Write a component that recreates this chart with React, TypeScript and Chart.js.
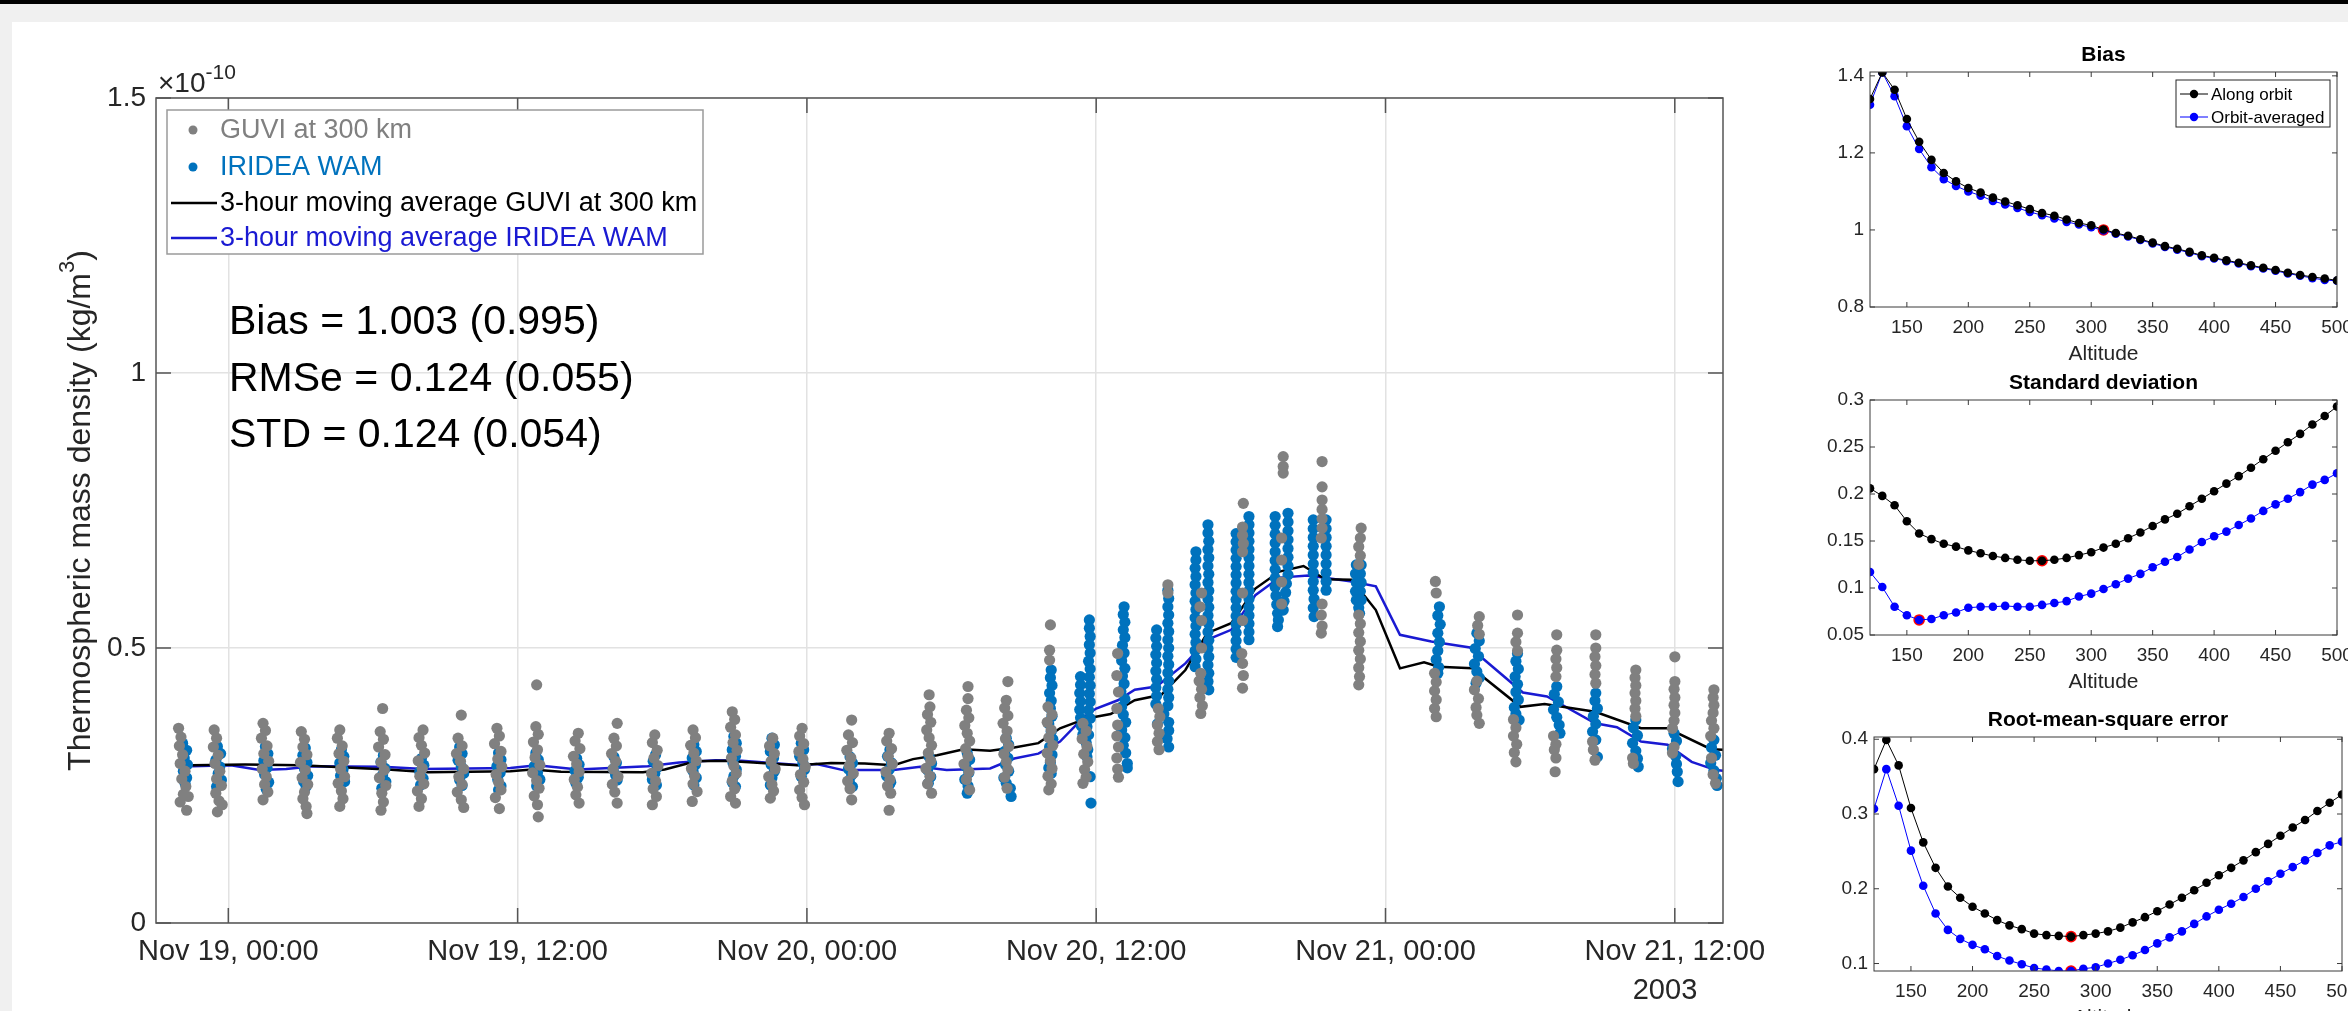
import React, { useEffect, useRef } from 'react';
import { Chart, registerables } from 'chart.js';

Chart.register(...registerables);

const FONT = "Arial, 'Liberation Sans', Helvetica, sans-serif";
const PAGE_W = 2348;
const PAGE_H = 1011;
const TEXT = '#262626';
const GUVI_COLOR = '#808080';
const WAM_COLOR = '#0072BD';
const AVG_GUVI_COLOR = '#000000';
const AVG_WAM_COLOR = '#1a1ad2';

// ---------------- main panel data (hours from Nov 19 00:00, density x1e-10) ----------------
const xTickHours = [0, 12, 24, 36, 48, 60];
const xTickLabels = ['Nov 19, 00:00', 'Nov 19, 12:00', 'Nov 20, 00:00', 'Nov 20, 12:00', 'Nov 21, 00:00', 'Nov 21, 12:00'];
const yTicksMain = [0, 0.5, 1, 1.5];
const legendLabels = ['GUVI at 300 km', 'IRIDEA WAM', '3-hour moving average GUVI at 300 km', '3-hour moving average IRIDEA WAM'];
const statLines = ['Bias = 1.003 (0.995)', 'RMSe = 0.124 (0.055)', 'STD = 0.124 (0.054)'];

// centre time (hours) of each orbit pass
const clusterHours = [-1.83, -0.42, 1.54, 3.16, 4.69, 6.40, 8.01, 9.63, 11.21, 12.79, 14.45, 16.03, 17.69, 19.31, 20.97, 22.55, 23.80, 25.79, 27.41, 29.07, 30.65, 32.27, 34.10, 35.55, 37.09, 38.74, 40.37, 42.07, 43.69, 45.27, 46.89, 50.17, 51.79, 53.41, 55.07, 56.69, 58.35, 59.97, 61.59];

// per pass: [offset minutes, value, offset minutes, value, ...]
const guviClusters = [
  [-14,0.354, -8,0.338, -12,0.322, -4,0.306, -10,0.29, 2,0.276, -6,0.262, 4,0.248, -2,0.234, -10,0.22, 6,0.205, 10,0.23],
  [-10,0.351, -4,0.336, -12,0.32, 0,0.305, -8,0.29, 4,0.276, -4,0.262, 8,0.25, -6,0.236, 2,0.222, -2,0.202, 10,0.215],
  [-6,0.363, 0,0.35, -10,0.336, 4,0.322, -4,0.308, 8,0.294, -8,0.28, 2,0.266, -2,0.252, 6,0.238, -6,0.224],
  [-8,0.348, 0,0.334, -4,0.32, 6,0.306, -10,0.292, 2,0.278, -6,0.264, 8,0.252, 0,0.238, -4,0.226, 4,0.212, 6,0.199],
  [-4,0.351, -10,0.336, 2,0.322, -6,0.308, 6,0.294, -2,0.28, 8,0.266, -8,0.254, 0,0.24, 4,0.226, -4,0.212],
  [0,0.39, -6,0.348, 2,0.334, -10,0.32, 6,0.306, -4,0.292, 4,0.278, -8,0.264, 8,0.25, -2,0.236, 2,0.22, -4,0.205],
  [4,0.351, -6,0.337, 0,0.323, 8,0.309, -8,0.295, 2,0.281, -4,0.267, 6,0.253, -10,0.24, 0,0.226, -6,0.212],
  [2,0.378, -6,0.336, 4,0.322, -10,0.308, 0,0.294, 8,0.28, -4,0.266, 4,0.252, -8,0.238, 2,0.224, 8,0.21],
  [-4,0.354, 2,0.34, -10,0.326, 6,0.312, -2,0.298, 8,0.284, -6,0.27, 0,0.256, 6,0.242, -8,0.228, 2,0.208],
  [0,0.433, -2,0.357, 4,0.343, -8,0.329, 2,0.315, -4,0.301, 8,0.287, -10,0.273, 0,0.259, 6,0.245, -6,0.231, 2,0.215, 4,0.193],
  [4,0.345, -4,0.331, 8,0.317, -8,0.303, 0,0.289, 6,0.275, -6,0.261, 2,0.247, -2,0.233, 6,0.218],
  [6,0.363, -2,0.336, 4,0.322, -8,0.308, 2,0.294, -4,0.28, 8,0.266, -6,0.252, 0,0.238, 6,0.218],
  [0,0.342, -6,0.328, 6,0.314, -2,0.3, 8,0.286, -8,0.272, 2,0.258, -4,0.244, 4,0.23, -6,0.215],
  [-2,0.351, 4,0.337, -8,0.323, 0,0.309, 6,0.295, -6,0.281, 2,0.267, -2,0.253, 8,0.239, -4,0.221],
  [-4,0.384, 2,0.37, -8,0.356, 4,0.342, -2,0.328, 8,0.314, -6,0.3, 0,0.286, 6,0.272, -4,0.258, 2,0.244, -8,0.23, 4,0.218],
  [2,0.336, -6,0.322, 6,0.308, -2,0.294, 8,0.28, -8,0.266, 0,0.252, 4,0.24, -4,0.227],
  [0,0.354, -6,0.34, 4,0.326, -8,0.312, 2,0.298, 8,0.284, -4,0.27, 4,0.256, -6,0.242, 0,0.228, 6,0.215],
  [4,0.369, -4,0.342, 6,0.328, -8,0.314, 2,0.3, -2,0.286, 8,0.272, -6,0.258, 0,0.244, 4,0.224],
  [0,0.345, -6,0.331, 6,0.317, -2,0.303, 8,0.289, -8,0.275, 2,0.261, -4,0.249, 4,0.236, 0,0.205],
  [0,0.415, 2,0.393, -4,0.379, 4,0.365, -6,0.351, 0,0.337, 6,0.323, -2,0.309, 4,0.295, -8,0.281, 2,0.267, -4,0.253, 6,0.236],
  [2,0.43, 2,0.408, -2,0.387, 4,0.373, -6,0.359, 0,0.345, 6,0.331, -4,0.317, 2,0.303, -8,0.289, 4,0.275, -2,0.261, 6,0.242],
  [4,0.439, 0,0.405, -4,0.391, 4,0.377, -8,0.363, 2,0.349, -2,0.335, 6,0.321, -6,0.307, 0,0.293, 4,0.279, -4,0.265, 2,0.245],
  [0,0.542, -2,0.496, -2,0.478, -6,0.393, 4,0.379, -8,0.365, 2,0.351, -4,0.337, 6,0.323, -8,0.309, 0,0.295, 4,0.281, -6,0.267, 2,0.253, -4,0.242],
  [-6,0.363, 2,0.349, -8,0.335, 4,0.321, -4,0.307, 6,0.293, -2,0.279, 2,0.265, -6,0.254],
  [-12,0.49, -14,0.45, -10,0.42, -14,0.39, -12,0.36, -14,0.34, -10,0.32, -14,0.3, -12,0.28, -10,0.265],
  [14,0.615, 14,0.6, -10,0.39, -6,0.375, -12,0.36, -8,0.345, -12,0.33, -8,0.315],
  [-4,0.575, 0,0.6, 0,0.55, 0,0.5, -2,0.454, -6,0.44, 0,0.425, -4,0.41, 2,0.395, -2,0.381],
  [2,0.763, 0,0.72, 0,0.705, 2,0.69, 0,0.675, 0,0.6, 0,0.55, -2,0.49, 0,0.472, 2,0.45, 0,0.427],
  [4,0.848, 4,0.83, 4,0.818, 0,0.7, 0,0.66, 0,0.62, 0,0.58],
  [6,0.839, 6,0.793, 6,0.769, 6,0.752, 6,0.735, 6,0.718, 4,0.7, 6,0.58, 4,0.56, 6,0.54, 4,0.527],
  [6,0.718, 4,0.7, 0,0.684, 4,0.668, 0,0.652, 0,0.56, 4,0.544, 0,0.528, 4,0.512, 0,0.496, 4,0.48, 0,0.464, 2,0.448, 0,0.433],
  [-6,0.621, -4,0.6, -8,0.454, -4,0.438, -8,0.422, -4,0.406, -8,0.39, -4,0.375],
  [6,0.557, 2,0.541, 6,0.525, 0,0.44, -6,0.424, 4,0.408, -2,0.392, 0,0.378, 6,0.363],
  [4,0.56, 4,0.527, 0,0.511, 4,0.495, -6,0.37, 0,0.355, -6,0.34, 2,0.325, -4,0.31, 0,0.293],
  [2,0.524, 2,0.496, 0,0.48, 2,0.464, 0,0.448, -6,0.34, 0,0.325, -4,0.315, 0,0.3, -2,0.275],
  [2,0.524, 2,0.5, 0,0.484, 2,0.468, 0,0.452, 2,0.436, -6,0.33, -4,0.315, 0,0.296],
  [2,0.46, 0,0.446, 2,0.432, 0,0.418, 2,0.404, 0,0.39, 2,0.376, -6,0.3, -4,0.29],
  [2,0.484, 2,0.439, 0,0.425, 2,0.41, 0,0.396, 2,0.382, 0,0.368, -4,0.354, 0,0.32, -4,0.309],
  [2,0.424, 0,0.41, 2,0.396, 0,0.382, -4,0.368, 2,0.354, -6,0.34, -4,0.3, 0,0.27, 6,0.254],
];

const wamClusters = [
  [-4,0.327, 6,0.314, 0,0.3, 8,0.288, -2,0.276, 6,0.264, 2,0.254],
  [-2,0.321, 6,0.308, -6,0.296, 4,0.284, 0,0.272, 8,0.26, -4,0.248],
  [0,0.321, 6,0.308, -4,0.295, 4,0.282, -2,0.27, 8,0.256, 2,0.243],
  [2,0.318, -4,0.305, 6,0.292, 0,0.28, 8,0.268, -2,0.257, 4,0.248],
  [0,0.315, 6,0.303, -4,0.291, 4,0.279, -2,0.268, 8,0.257],
  [2,0.305, -4,0.293, 6,0.281, 0,0.269, 8,0.257, -2,0.245],
  [0,0.299, 6,0.287, -4,0.275, 4,0.263, -2,0.251],
  [-2,0.32, 4,0.308, -6,0.296, 2,0.284, 8,0.272, -2,0.26, 4,0.25],
  [0,0.309, 6,0.297, -4,0.285, 4,0.273, -2,0.261, 6,0.249, 0,0.242],
  [-2,0.309, 4,0.297, -6,0.285, 2,0.273, 8,0.261, 0,0.249],
  [0,0.299, 6,0.288, -4,0.277, 4,0.265, -2,0.254],
  [-2,0.302, 4,0.291, -4,0.28, 2,0.269, 6,0.26],
  [2,0.306, -4,0.294, 6,0.283, 0,0.272, -6,0.261, 4,0.251],
  [0,0.324, 6,0.312, -4,0.3, 4,0.288, -2,0.276, 6,0.264, 0,0.251],
  [0,0.339, 6,0.327, -4,0.315, 4,0.303, -2,0.291, 6,0.279, 0,0.267, -4,0.256, 4,0.248],
  [0,0.336, 6,0.324, -4,0.312, 4,0.3, -2,0.288, 6,0.276, 0,0.264, -4,0.251],
  [-2,0.327, 4,0.315, -6,0.303, 2,0.291, 6,0.279, -2,0.266],
  [0,0.302, 6,0.291, -4,0.28, 4,0.269, -2,0.258, 6,0.248],
  [2,0.315, -4,0.303, 6,0.291, 0,0.279, -6,0.267, 4,0.256, 0,0.251],
  [0,0.302, 6,0.29, -4,0.278, 4,0.266, -2,0.254],
  [0,0.309, 6,0.297, -4,0.285, 4,0.273, -6,0.261, 2,0.249, 0,0.236],
  [0,0.336, 6,0.324, -4,0.312, 4,0.3, -2,0.288, 6,0.276, -6,0.264, 0,0.254, 10,0.245, 12,0.23],
  [2,0.46, 0,0.446, 4,0.432, -2,0.418, 2,0.404, 0,0.39, 4,0.376, -4,0.362, 2,0.348, 6,0.334, -2,0.32, 4,0.306, 0,0.292, -4,0.282, 2,0.272],
  [10,0.551, 10,0.536, 12,0.521, 10,0.506, 12,0.491, 8,0.476, 12,0.462, -12,0.448, 10,0.447, -12,0.433, 12,0.432, -14,0.418, 10,0.417, -12,0.403, 12,0.402, -14,0.388, 8,0.387, -12,0.373, 12,0.372, -10,0.358, 4,0.357, -6,0.343, 8,0.342, 2,0.328, 6,0.315, 4,0.302, 12,0.266, 14,0.218],
  [4,0.575, 2,0.561, 6,0.547, 2,0.533, 6,0.519, 0,0.505, 4,0.491, -2,0.477, 6,0.463, 0,0.449, 4,0.435, -4,0.421, 6,0.407, -2,0.393, 2,0.379, 8,0.365, -2,0.351, 6,0.337, 2,0.323, 8,0.309, 12,0.29, 12,0.282],
  [14,0.605, 16,0.59, 14,0.575, 16,0.56, 14,0.545, -14,0.533, 16,0.53, -16,0.518, 14,0.515, -14,0.503, 16,0.5, -16,0.488, 14,0.485, -14,0.473, 16,0.47, -16,0.458, 14,0.455, -14,0.443, 16,0.44, -16,0.428, 14,0.425, -14,0.413, 16,0.41, -16,0.398, 14,0.395, 4,0.38, 16,0.365, -12,0.362, 16,0.35, 12,0.335, 16,0.32],
  [16,0.724, 16,0.709, 18,0.694, -14,0.675, 16,0.679, -14,0.66, 18,0.664, -16,0.645, 16,0.649, -14,0.63, 18,0.634, -16,0.615, 16,0.619, -14,0.6, 18,0.604, -16,0.585, 16,0.589, -14,0.57, 18,0.574, -16,0.555, 16,0.559, -14,0.54, 18,0.544, -16,0.525, 16,0.529, -14,0.51, 18,0.514, -16,0.495, 16,0.499, -14,0.48, 18,0.484, -16,0.466, 16,0.469, 18,0.454, 16,0.439, 18,0.424],
  [16,0.739, 16,0.724, -16,0.708, 16,0.709, -16,0.693, 16,0.694, -16,0.678, 16,0.679, -16,0.663, 16,0.664, -16,0.648, 16,0.649, -16,0.633, 16,0.634, -16,0.618, 16,0.619, -16,0.603, 16,0.604, -16,0.588, 16,0.589, -16,0.573, 16,0.574, -16,0.558, 16,0.559, -16,0.543, 16,0.544, -16,0.528, 16,0.529, -16,0.513, 16,0.515, -16,0.498, -16,0.483],
  [-16,0.739, 16,0.745, -16,0.723, 16,0.729, -16,0.707, 16,0.713, -16,0.691, 16,0.697, -16,0.675, 16,0.681, -16,0.659, 16,0.665, -16,0.643, 16,0.649, -16,0.627, 16,0.633, -16,0.611, 12,0.617, -14,0.595, 10,0.601, -12,0.579, 6,0.585, -10,0.563, 4,0.569, -8,0.551, -10,0.539],
  [-16,0.733, 16,0.733, -16,0.717, 16,0.717, -16,0.701, 16,0.701, -16,0.685, 16,0.685, -16,0.669, 16,0.669, -16,0.653, 16,0.653, -16,0.637, 16,0.637, -16,0.621, 16,0.621, -16,0.605, 16,0.605, -14,0.589, -16,0.573, -14,0.557],
  [-6,0.651, 6,0.651, -8,0.635, 4,0.635, -6,0.619, 6,0.619, -8,0.603, 4,0.603, -6,0.587, 6,0.587, 0,0.573, 2,0.563],
  [4,0.575, 0,0.559, 6,0.543, 0,0.527, 4,0.511, 0,0.495, -4,0.479, 2,0.465, 0,0.454],
  [0,0.527, 6,0.513, -4,0.499, 4,0.485, -6,0.471, 0,0.457, 6,0.446, -2,0.436],
  [4,0.49, 0,0.476, 6,0.462, -2,0.448, 4,0.434, 0,0.42, 6,0.406, -4,0.392, 0,0.38, 8,0.369],
  [2,0.43, -4,0.416, 6,0.402, -6,0.388, 2,0.374, 8,0.36, 10,0.345],
  [2,0.418, 0,0.404, 6,0.39, -4,0.376, 2,0.362, -6,0.348, 2,0.333, 6,0.302],
  [2,0.369, -4,0.355, 6,0.341, -6,0.327, 2,0.313, 6,0.299, 8,0.284],
  [0,0.345, 6,0.331, -4,0.317, 4,0.303, 6,0.289, 8,0.275, 10,0.257],
  [2,0.333, -4,0.319, 6,0.305, -6,0.291, 2,0.277, 8,0.263, 10,0.25],
];

const guviAvgHours = [-1.5, 0.7, 3.0, 6.6, 8.3, 11.7, 12.6, 13.8, 17.2, 18.1, 19.4, 20.6, 23.6, 25.0, 26.4, 27.6, 28.4, 29.4, 30.5, 31.6, 32.6, 33.6, 34.5, 35.6, 36.6, 37.6, 38.7, 39.7, 40.6, 41.6, 42.6, 43.6, 44.6, 45.5, 46.6, 47.6, 48.6, 49.6, 50.2, 51.6, 53.6, 54.6, 56.7, 58.6, 59.7, 61.5, 62.0];
const guviAvgValues = [0.287, 0.288, 0.287, 0.279, 0.274, 0.276, 0.279, 0.275, 0.274, 0.279, 0.294, 0.295, 0.287, 0.291, 0.290, 0.287, 0.298, 0.305, 0.316, 0.313, 0.319, 0.327, 0.354, 0.372, 0.380, 0.405, 0.415, 0.460, 0.527, 0.545, 0.608, 0.639, 0.649, 0.625, 0.624, 0.569, 0.463, 0.474, 0.466, 0.463, 0.393, 0.398, 0.384, 0.354, 0.354, 0.316, 0.315];
const wamAvgHours = [-1.5, 0.1, 1.3, 2.4, 3.5, 6.4, 8.1, 11.7, 12.8, 14.5, 17.4, 18.7, 20.2, 21.3, 23.8, 24.4, 25.5, 27.6, 28.7, 29.8, 31.6, 32.6, 33.6, 34.5, 35.5, 36.0, 36.9, 37.6, 38.5, 39.7, 40.6, 41.6, 42.6, 43.6, 44.8, 46.6, 47.6, 48.6, 49.9, 51.5, 53.7, 54.7, 56.7, 57.6, 58.6, 59.7, 60.7, 61.7, 62.0];
const wamAvgValues = [0.285, 0.287, 0.278, 0.280, 0.285, 0.284, 0.280, 0.282, 0.287, 0.279, 0.285, 0.292, 0.296, 0.295, 0.287, 0.289, 0.278, 0.278, 0.284, 0.278, 0.281, 0.299, 0.308, 0.330, 0.375, 0.390, 0.405, 0.424, 0.430, 0.472, 0.515, 0.533, 0.596, 0.628, 0.632, 0.621, 0.612, 0.524, 0.512, 0.501, 0.419, 0.412, 0.363, 0.356, 0.330, 0.324, 0.293, 0.278, 0.277];

// ---------------- right panels data ----------------
const altitudes = [120, 130, 140, 150, 160, 170, 180, 190, 200, 210, 220, 230, 240, 250, 260, 270, 280, 290, 300, 310, 320, 330, 340, 350, 360, 370, 380, 390, 400, 410, 420, 430, 440, 450, 460, 470, 480, 490, 500];
const altTicks = [150, 200, 250, 300, 350, 400, 450, 500];

const biasAlong = [1.340, 1.409, 1.364, 1.288, 1.229, 1.182, 1.148, 1.126, 1.109, 1.097, 1.084, 1.074, 1.064, 1.054, 1.044, 1.037, 1.027, 1.018, 1.012, 1.001, 0.992, 0.985, 0.976, 0.967, 0.958, 0.951, 0.943, 0.934, 0.928, 0.921, 0.915, 0.908, 0.902, 0.896, 0.889, 0.883, 0.878, 0.874, 0.869];
const biasAveraged = [1.325, 1.409, 1.347, 1.269, 1.210, 1.163, 1.132, 1.114, 1.100, 1.089, 1.075, 1.066, 1.057, 1.047, 1.038, 1.030, 1.021, 1.014, 1.007, 0.999, 0.990, 0.983, 0.974, 0.965, 0.956, 0.949, 0.941, 0.932, 0.926, 0.919, 0.913, 0.906, 0.900, 0.894, 0.887, 0.881, 0.875, 0.870, 0.868];
const biasBestAlt = [310];
const biasBestVal = [1.0];
const biasTicks = [0.8, 1, 1.2, 1.4];

const stdAlong = [0.206, 0.198, 0.188, 0.171, 0.158, 0.152, 0.147, 0.144, 0.140, 0.137, 0.134, 0.132, 0.130, 0.129, 0.129, 0.130, 0.132, 0.135, 0.138, 0.143, 0.147, 0.153, 0.159, 0.166, 0.173, 0.179, 0.187, 0.195, 0.203, 0.211, 0.219, 0.228, 0.237, 0.246, 0.255, 0.264, 0.274, 0.283, 0.293];
const stdAveraged = [0.117, 0.101, 0.080, 0.071, 0.066, 0.067, 0.071, 0.074, 0.079, 0.080, 0.080, 0.081, 0.080, 0.080, 0.082, 0.084, 0.086, 0.091, 0.094, 0.099, 0.104, 0.110, 0.115, 0.122, 0.128, 0.133, 0.141, 0.149, 0.155, 0.160, 0.167, 0.174, 0.182, 0.189, 0.195, 0.202, 0.210, 0.215, 0.222];
const stdBestAlt = [260, 160];
const stdBestVal = [0.129, 0.066];
const stdTicks = [0.05, 0.1, 0.15, 0.2, 0.25, 0.3];

const rmseAlong = [0.360, 0.399, 0.365, 0.308, 0.262, 0.228, 0.203, 0.188, 0.176, 0.167, 0.158, 0.151, 0.146, 0.140, 0.138, 0.137, 0.136, 0.138, 0.140, 0.143, 0.148, 0.155, 0.162, 0.170, 0.179, 0.188, 0.198, 0.208, 0.218, 0.228, 0.238, 0.249, 0.260, 0.271, 0.282, 0.292, 0.304, 0.315, 0.326];
const rmseAveraged = [0.307, 0.360, 0.311, 0.251, 0.204, 0.167, 0.145, 0.133, 0.125, 0.119, 0.110, 0.104, 0.099, 0.094, 0.092, 0.090, 0.090, 0.093, 0.095, 0.100, 0.105, 0.111, 0.118, 0.127, 0.135, 0.143, 0.153, 0.163, 0.172, 0.180, 0.189, 0.200, 0.210, 0.220, 0.229, 0.238, 0.248, 0.258, 0.263];
const rmseBestAlt = [280, 280];
const rmseBestVal = [0.136, 0.090];
const rmseTicks = [0.1, 0.2, 0.3, 0.4];

const subLegendLabels = ['Along orbit', 'Orbit-averaged'];

// ---------------- helpers ----------------
function drawBox(chart: any, tickLen: number, color: string, lw: number) {
  const { ctx, chartArea } = chart;
  const { left, right, top, bottom } = chartArea;
  const xs = chart.scales.x;
  const ys = chart.scales.y;
  ctx.save();
  ctx.strokeStyle = color;
  ctx.lineWidth = lw;
  ctx.strokeRect(left, top, right - left, bottom - top);
  ctx.beginPath();
  xs.ticks.forEach((t: any) => {
    const p = xs.getPixelForValue(t.value);
    ctx.moveTo(p, bottom); ctx.lineTo(p, bottom - tickLen);
    ctx.moveTo(p, top); ctx.lineTo(p, top + tickLen);
  });
  ys.ticks.forEach((t: any) => {
    const p = ys.getPixelForValue(t.value);
    ctx.moveTo(left, p); ctx.lineTo(left + tickLen, p);
    ctx.moveTo(right, p); ctx.lineTo(right - tickLen, p);
  });
  ctx.stroke();
  ctx.restore();
}

function clusterPoints(groups: number[][]) {
  const pts: { x: number; y: number }[] = [];
  groups.forEach((g, i) => {
    for (let k = 0; k < g.length; k += 2) pts.push({ x: clusterHours[i] + g[k] / 60, y: g[k + 1] });
  });
  return pts;
}

const MAIN_AREA = { l: 156, t: 98, r: 1723, b: 923 };
const MAIN_W = 1800;
const DOT_R = 5.6;

const mainDecor = {
  id: 'mainDecor',
  afterDraw(chart: any) {
    const ctx = chart.ctx;
    const { top, bottom } = chart.chartArea;
    drawBox(chart, 15, '#555555', 1.5);
    ctx.save();
    // exponent
    ctx.fillStyle = TEXT;
    ctx.textAlign = 'left';
    ctx.textBaseline = 'alphabetic';
    ctx.font = `28px ${FONT}`;
    ctx.fillText('\u00d710', 158, 92);
    const we = ctx.measureText('\u00d710').width;
    ctx.font = `21px ${FONT}`;
    ctx.fillText('-10', 158 + we, 79);
    // y axis title
    ctx.save();
    ctx.translate(90, (top + bottom) / 2);
    ctx.rotate(-Math.PI / 2);
    const t1 = 'Thermospheric mass density (kg/m';
    const t2 = '3';
    const t3 = ')';
    ctx.font = `32px ${FONT}`;
    const w1 = ctx.measureText(t1).width;
    const w3 = ctx.measureText(t3).width;
    ctx.font = `22px ${FONT}`;
    const w2 = ctx.measureText(t2).width;
    const x0 = -(w1 + w2 + w3) / 2;
    ctx.font = `32px ${FONT}`;
    ctx.fillText(t1, x0, 0);
    ctx.font = `22px ${FONT}`;
    ctx.fillText(t2, x0 + w1, -16);
    ctx.font = `32px ${FONT}`;
    ctx.fillText(t3, x0 + w1 + w2, 0);
    ctx.restore();
    // stats text
    ctx.fillStyle = '#000000';
    ctx.font = `41px ${FONT}`;
    const baselines = [334, 391, 447];
    statLines.forEach((s, i) => ctx.fillText(s, 229, baselines[i]));
    // legend
    const lx = 167, ly = 110, lw = 536, lh = 144;
    ctx.fillStyle = '#ffffff';
    ctx.fillRect(lx, ly, lw, lh);
    ctx.strokeStyle = '#9a9a9a';
    ctx.lineWidth = 1.5;
    ctx.strokeRect(lx, ly, lw, lh);
    const rows = [130, 167, 203, 238];
    const textColors = [GUVI_COLOR, WAM_COLOR, '#000000', AVG_WAM_COLOR];
    ctx.font = `27px ${FONT}`;
    ctx.textBaseline = 'middle';
    rows.forEach((y, i) => {
      if (i < 2) {
        ctx.fillStyle = i === 0 ? GUVI_COLOR : WAM_COLOR;
        ctx.beginPath();
        ctx.arc(193, y, 4.5, 0, Math.PI * 2);
        ctx.fill();
      } else {
        ctx.strokeStyle = i === 2 ? AVG_GUVI_COLOR : AVG_WAM_COLOR;
        ctx.lineWidth = 2.5;
        ctx.beginPath();
        ctx.moveTo(171, y);
        ctx.lineTo(217, y);
        ctx.stroke();
      }
      ctx.fillStyle = textColors[i];
      ctx.fillText(legendLabels[i], 220, y + 1);
    });
    // year label
    ctx.fillStyle = TEXT;
    ctx.font = `29px ${FONT}`;
    ctx.textAlign = 'center';
    ctx.fillText('2003', 1665, 991);
    ctx.restore();
  },
};

function mainConfig(): any {
  const a = MAIN_AREA;
  const grid = { color: '#e2e2e2', lineWidth: 1.5, drawTicks: false };
  return {
    type: 'scatter',
    data: {
      datasets: [
        { label: legendLabels[0], data: clusterPoints(guviClusters), backgroundColor: GUVI_COLOR, pointBackgroundColor: GUVI_COLOR, pointBorderWidth: 0, borderWidth: 0, pointRadius: DOT_R },
        { label: legendLabels[1], data: clusterPoints(wamClusters), backgroundColor: WAM_COLOR, pointBackgroundColor: WAM_COLOR, pointBorderWidth: 0, borderWidth: 0, pointRadius: DOT_R },
        { label: legendLabels[2], data: guviAvgHours.map((h, i) => ({ x: h, y: guviAvgValues[i] })), showLine: true, borderColor: AVG_GUVI_COLOR, borderWidth: 2.5, pointRadius: 0, fill: false },
        { label: legendLabels[3], data: wamAvgHours.map((h, i) => ({ x: h, y: wamAvgValues[i] })), showLine: true, borderColor: AVG_WAM_COLOR, borderWidth: 2.5, pointRadius: 0, fill: false },
      ],
    },
    options: {
      responsive: false,
      maintainAspectRatio: false,
      animation: false,
      devicePixelRatio: 1,
      events: [],
      layout: { padding: { left: 0, top: a.t, right: MAIN_W - a.r, bottom: 0 } },
      plugins: { legend: { display: false }, tooltip: { enabled: false }, title: { display: false } },
      scales: {
        x: {
          type: 'linear', position: 'bottom', min: -3, max: 62,
          afterBuildTicks: (s: any) => { s.ticks = xTickHours.map((v) => ({ value: v })); },
          afterFit: (s: any) => { s.height = PAGE_H - a.b; },
          grid, border: { display: false },
          ticks: {
            autoSkip: false, maxRotation: 0, minRotation: 0, padding: 12, color: TEXT,
            font: { family: FONT, size: 29 },
            callback: (v: any) => xTickLabels[xTickHours.indexOf(Number(v))] ?? '',
          },
        },
        y: {
          type: 'linear', min: 0, max: 1.5,
          afterBuildTicks: (s: any) => { s.ticks = yTicksMain.map((v) => ({ value: v })); },
          afterFit: (s: any) => { s.width = a.l; },
          grid, border: { display: false },
          ticks: { padding: 10, color: TEXT, font: { family: FONT, size: 28 }, callback: (v: any) => String(v) },
        },
      },
    },
    plugins: [mainDecor],
  };
}

const SUB_X = 1790;
const SUB_W = 600;

function subConfig(spec: any): any {
  const [L, T, R, B] = spec.area;
  const l = L - SUB_X;
  const r = R - SUB_X;
  const mk = (vals: number[]) => altitudes.map((alt, i) => ({ x: alt, y: vals[i] }));
  const decor = {
    id: 'subDecor',
    afterDraw(chart: any) {
      const ctx = chart.ctx;
      const { left, right, top, bottom } = chart.chartArea;
      drawBox(chart, 5, '#3a3a3a', 1);
      const cx = (left + right) / 2;
      ctx.save();
      ctx.textAlign = 'center';
      ctx.textBaseline = 'middle';
      ctx.fillStyle = '#000000';
      ctx.font = `bold 21px ${FONT}`;
      ctx.fillText(spec.title, cx, top - 17);
      ctx.fillStyle = TEXT;
      ctx.font = `21px ${FONT}`;
      ctx.fillText('Altitude', cx, bottom + 47);
      if (spec.legend) {
        const bx = 2176 - SUB_X, by = 80, bw = 154, bh = 47;
        ctx.fillStyle = '#ffffff';
        ctx.fillRect(bx, by, bw, bh);
        ctx.strokeStyle = '#262626';
        ctx.lineWidth = 1;
        ctx.strokeRect(bx, by, bw, bh);
        const rows = [94, 117];
        const cols = ['#000000', '#0000ff'];
        ctx.textAlign = 'left';
        ctx.font = `17px ${FONT}`;
        rows.forEach((y, i) => {
          ctx.strokeStyle = cols[i];
          ctx.beginPath();
          ctx.moveTo(bx + 4, y);
          ctx.lineTo(bx + 32, y);
          ctx.stroke();
          ctx.fillStyle = cols[i];
          ctx.beginPath();
          ctx.arc(bx + 18, y, 4.2, 0, Math.PI * 2);
          ctx.fill();
          ctx.fillStyle = '#000000';
          ctx.fillText(subLegendLabels[i], bx + 35, y + 1);
        });
      }
      ctx.restore();
    },
  };
  return {
    type: 'scatter',
    data: {
      datasets: [
        { data: mk(spec.along), showLine: true, borderColor: '#000000', borderWidth: 1, backgroundColor: '#000000', pointBackgroundColor: '#000000', pointBorderWidth: 0, pointRadius: 4.3 },
        { data: mk(spec.averaged), showLine: true, borderColor: '#0000ff', borderWidth: 1, backgroundColor: '#0000ff', pointBackgroundColor: '#0000ff', pointBorderWidth: 0, pointRadius: 4.3 },
        { data: spec.bestAlt.map((alt: number, i: number) => ({ x: alt, y: spec.bestVal[i] })), showLine: false, backgroundColor: '#ff0000', pointBackgroundColor: '#ff0000', pointBorderWidth: 0, pointRadius: 5.8 },
      ],
    },
    options: {
      responsive: false,
      maintainAspectRatio: false,
      animation: false,
      devicePixelRatio: 1,
      events: [],
      layout: { padding: { left: 0, top: T, right: SUB_W - r, bottom: 0 } },
      plugins: { legend: { display: false }, tooltip: { enabled: false }, title: { display: false } },
      scales: {
        x: {
          type: 'linear', min: 120, max: 500,
          afterBuildTicks: (s: any) => { s.ticks = altTicks.map((v) => ({ value: v })); },
          afterFit: (s: any) => { s.height = PAGE_H - B; },
          grid: { display: false, drawTicks: false }, border: { display: false },
          ticks: { autoSkip: false, maxRotation: 0, padding: 9, color: TEXT, font: { family: FONT, size: 19 }, callback: (v: any) => String(v) },
        },
        y: {
          type: 'linear', min: spec.yMin, max: spec.yMax,
          afterBuildTicks: (s: any) => { s.ticks = spec.yTicks.map((v: number) => ({ value: v })); },
          afterFit: (s: any) => { s.width = l; },
          grid: { display: false, drawTicks: false }, border: { display: false },
          ticks: { padding: 6, color: TEXT, font: { family: FONT, size: 19 }, callback: (v: any) => String(v) },
        },
      },
    },
    plugins: [decor],
  };
}

const biasSpec = { area: [1870, 72, 2337, 307], yMin: 0.8, yMax: 1.41, yTicks: biasTicks, title: 'Bias', along: biasAlong, averaged: biasAveraged, bestAlt: biasBestAlt, bestVal: biasBestVal, legend: true };
const stdSpec = { area: [1870, 400, 2337, 635], yMin: 0.05, yMax: 0.3, yTicks: stdTicks, title: 'Standard deviation', along: stdAlong, averaged: stdAveraged, bestAlt: stdBestAlt, bestVal: stdBestVal, legend: false };
const rmseSpec = { area: [1874, 737, 2342, 971], yMin: 0.09, yMax: 0.403, yTicks: rmseTicks, title: 'Root-mean-square error', along: rmseAlong, averaged: rmseAveraged, bestAlt: rmseBestAlt, bestVal: rmseBestVal, legend: false };

function ChartCanvas({ left, width, make }: { left: number; width: number; make: () => any }) {
  const ref = useRef<HTMLCanvasElement>(null);
  useEffect(() => {
    const chart = new Chart(ref.current as HTMLCanvasElement, make());
    return () => chart.destroy();
  }, []);
  return (
    <canvas
      ref={ref}
      width={width}
      height={PAGE_H}
      style={{ position: 'absolute', left, top: 0, width, height: PAGE_H }}
    />
  );
}

export default function App() {
  return (
    <div style={{ position: 'absolute', left: 0, top: 0, width: PAGE_W, height: PAGE_H, overflow: 'hidden', background: '#ffffff' }}>
      <div style={{ position: 'absolute', left: 0, top: 0, width: PAGE_W, height: 4, background: '#000000' }} />
      <div style={{ position: 'absolute', left: 0, top: 4, width: PAGE_W, height: 18, background: '#f0f0f0' }} />
      <div style={{ position: 'absolute', left: 0, top: 4, width: 12, height: PAGE_H - 4, background: '#f0f0f0' }} />
      <ChartCanvas left={0} width={MAIN_W} make={mainConfig} />
      <ChartCanvas left={SUB_X} width={SUB_W} make={() => subConfig(biasSpec)} />
      <ChartCanvas left={SUB_X} width={SUB_W} make={() => subConfig(stdSpec)} />
      <ChartCanvas left={SUB_X} width={SUB_W} make={() => subConfig(rmseSpec)} />
    </div>
  );
}
